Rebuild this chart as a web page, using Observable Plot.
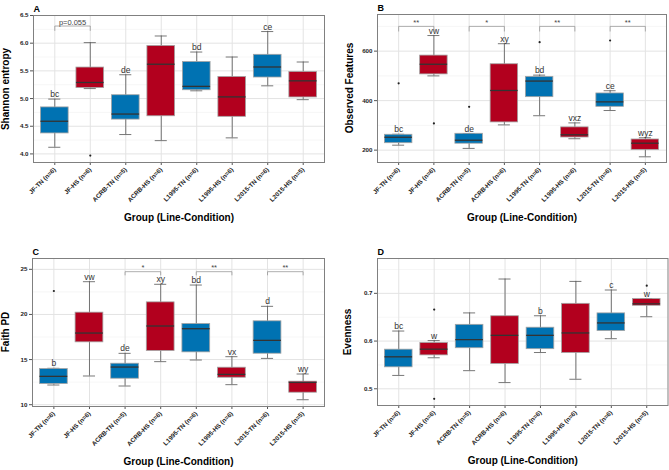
<!DOCTYPE html>
<html>
<head>
<meta charset="utf-8">
<script src="https://cdn.jsdelivr.net/npm/d3@7"></script>
<script src="https://cdn.jsdelivr.net/npm/@observablehq/plot@0.6"></script>
<style>
  html, body { margin: 0; padding: 0; background: #fff; }
  #wrap { position: relative; width: 669px; height: 470px; background: #fff; overflow: hidden; }
  .panel { position: absolute; }
  .ytitle { position: absolute; font-family: 'Liberation Sans', Arial, Helvetica, sans-serif; font-weight: bold;
            font-size: 10px; color: #000; white-space: nowrap; line-height: 1;
            transform: translate(-50%, -50%) rotate(-90deg); }
</style>
</head>
<body>
<div id="wrap">
  <div class="panel" id="pA" style="left:0;top:0"></div>
  <div class="panel" id="pB" style="left:335px;top:0"></div>
  <div class="panel" id="pC" style="left:0;top:235px"></div>
  <div class="panel" id="pD" style="left:335px;top:235px"></div>
</div>
<script>
// ---------- data ----------
const groups = ["JF-TN (n=6)", "JF-HS (n=6)", "ACRB-TN (n=5)", "ACRB-HS (n=6)",
                "L1995-TN (n=6)", "L1995-HS (n=6)", "L2015-TN (n=6)", "L2015-HS (n=5)"];
const conditions = ["TN", "HS", "TN", "HS", "TN", "HS", "TN", "HS"];
const xTitle = "Group (Line-Condition)";

// A: Shannon entropy
const shannonMin = [4.12, 5.18, 4.35, 4.24, 5.14, 4.29, 5.23, 4.98];
const shannonQ1  = [4.37, 5.19, 4.62, 4.68, 5.15, 4.67, 5.38, 5.02];
const shannonMed = [4.59, 5.29, 4.72, 5.62, 5.22, 5.03, 5.57, 5.32];
const shannonQ3  = [4.84, 5.56, 5.06, 5.95, 5.66, 5.39, 5.79, 5.48];
const shannonMax = [4.99, 6.01, 5.43, 6.13, 5.84, 5.75, 6.21, 5.66];
const shannonOutGroup = ["JF-HS (n=6)"];
const shannonOutValue = [3.97];
const shannonLetters = ["bc", "", "de", "", "bd", "", "ce", ""];
const shannonBrLeft = ["JF-TN (n=6)"];
const shannonBrRight = ["JF-HS (n=6)"];
const shannonBrTop = [6.31];
const shannonBrLeg = [6.23];
const shannonBrText = ["p=0.055"];
const shannonTicks = [4.0, 4.5, 5.0, 5.5, 6.0, 6.5];
const shannonMinor = [4.25, 4.75, 5.25, 5.75, 6.25];

// B: Observed Features
const obsMin = [220, 500, 207, 302, 339, 246, 360, 173];
const obsQ1  = [228, 506, 226, 312, 414, 251, 375, 201];
const obsMed = [252, 547, 240, 441, 479, 262, 395, 228];
const obsQ3  = [262, 582, 266, 547, 496, 292, 429, 243];
const obsMax = [264, 663, 267, 630, 503, 310, 440, 250];
const obsOutGroup = ["JF-TN (n=6)", "JF-HS (n=6)", "ACRB-TN (n=5)", "L1995-TN (n=6)", "L2015-TN (n=6)"];
const obsOutValue = [470, 308, 375, 636, 643];
const obsLetters = ["bc", "vw", "de", "xy", "bd", "vxz", "ce", "wyz"];
const obsBrLeft = ["JF-TN (n=6)", "ACRB-TN (n=5)", "L1995-TN (n=6)", "L2015-TN (n=6)"];
const obsBrRight = ["JF-HS (n=6)", "ACRB-HS (n=6)", "L1995-HS (n=6)", "L2015-HS (n=5)"];
const obsBrTop = [700, 700, 700, 700];
const obsBrLeg = [681, 681, 681, 681];
const obsBrText = ["**", "*", "**", "**"];
const obsTicks = [200, 400, 600];
const obsMinor = [300, 500, 700];

// C: Faith PD
const faithMin = [12.18, 13.18, 12.07, 14.77, 14.95, 12.22, 15.13, 10.55];
const faithQ1  = [12.29, 16.91, 12.88, 15.95, 15.80, 12.99, 15.65, 11.33];
const faithMed = [13.14, 17.94, 14.17, 18.72, 18.42, 13.36, 17.13, 12.47];
const faithQ3  = [13.95, 20.20, 14.54, 21.34, 18.94, 14.10, 19.24, 12.55];
const faithMax = [14.03, 23.63, 15.69, 23.34, 23.26, 15.32, 20.90, 13.40];
const faithOutGroup = ["JF-TN (n=6)"];
const faithOutValue = [22.6];
const faithLetters = ["b", "vw", "de", "xy", "bd", "vx", "d", "wy"];
const faithBrLeft = ["ACRB-TN (n=5)", "L1995-TN (n=6)", "L2015-TN (n=6)"];
const faithBrRight = ["ACRB-HS (n=6)", "L1995-HS (n=6)", "L2015-HS (n=5)"];
const faithBrTop = [24.74, 24.74, 24.74];
const faithBrLeg = [24.38, 24.38, 24.38];
const faithBrText = ["*", "**", "**"];
const faithTicks = [10, 15, 20, 25];
const faithMinor = [12.5, 17.5, 22.5];

// D: Evenness
const evenMin = [0.528, 0.565, 0.538, 0.513, 0.576, 0.520, 0.605, 0.651];
const evenQ1  = [0.545, 0.570, 0.585, 0.552, 0.583, 0.575, 0.621, 0.674];
const evenMed = [0.567, 0.583, 0.603, 0.612, 0.612, 0.617, 0.638, 0.678];
const evenQ3  = [0.582, 0.596, 0.634, 0.652, 0.628, 0.678, 0.658, 0.688];
const evenMax = [0.621, 0.601, 0.659, 0.730, 0.653, 0.725, 0.707, 0.689];
const evenOutGroup = ["JF-HS (n=6)", "JF-HS (n=6)", "L2015-HS (n=5)"];
const evenOutValue = [0.666, 0.479, 0.716];
const evenLetters = ["bc", "w", "", "", "b", "", "c", "w"];
const evenBrLeft = [];
const evenBrRight = [];
const evenBrTop = [];
const evenBrLeg = [];
const evenBrText = [];
const evenTicks = [0.5, 0.6, 0.7];
const evenMinor = [0.55, 0.65, 0.75];

// ---------- drawing ----------
const BLUE = "#0072B2";
const RED = "#B2001E";
const FONT = "'Liberation Sans', Arial, Helvetica, sans-serif";
const PAD_IN = 0.22, PAD_OUT = 0.21;

function panel(cfg) {
  const rows = groups.map((g, i) => ({
    g, cond: conditions[i],
    min: cfg.min[i], q1: cfg.q1[i], med: cfg.med[i], q3: cfg.q3[i], max: cfg.max[i],
    letter: cfg.letters[i]
  }));
  const outs = cfg.outG.map((g, i) => ({g, v: cfg.outV[i]}));
  const brs = cfg.brL.map((l, i) => ({id: i, left: l, right: cfg.brR[i], top: cfg.brTop[i], leg: cfg.brLeg[i], label: cfg.brText[i]}));
  const brPts = brs.flatMap(b => [
    {id: b.id, g: b.left, y: b.leg}, {id: b.id, g: b.left, y: b.top},
    {id: b.id, g: b.right, y: b.top}, {id: b.id, g: b.right, y: b.leg}
  ]);
  const W = cfg.w - cfg.ml - cfg.mr;
  const step = W / (groups.length - PAD_IN + 2 * PAD_OUT);
  const capInset = 0.22 * step;

  const chart = Plot.plot({
    width: cfg.w, height: cfg.h,
    marginLeft: cfg.ml, marginRight: cfg.mr, marginTop: cfg.mt, marginBottom: cfg.mb,
    style: {fontFamily: FONT, background: "#fff", overflow: "visible"},
    x: {type: "band", domain: groups, paddingInner: PAD_IN, paddingOuter: PAD_OUT, round: false},
    y: {domain: cfg.domain},
    color: {domain: ["TN", "HS"], range: [BLUE, RED]},
    marks: [
      Plot.gridY(cfg.minor, {stroke: "#ececec", strokeOpacity: 1, strokeWidth: 0.5}),
      Plot.gridY(cfg.ticks, {stroke: "#e3e3e3", strokeOpacity: 1, strokeWidth: 1}),
      Plot.gridX(groups, {stroke: "#e3e3e3", strokeOpacity: 1, strokeWidth: 1}),
      Plot.axisY(cfg.ticks, {tickFormat: cfg.fmt, tickSize: 3, tickPadding: 2, fontSize: 6.2, fontWeight: "bold", fill: "#222", stroke: "#555", label: null}),
      Plot.axisX({tickRotate: -45, tickSize: 3, tickPadding: 3, fontSize: 6.3, fontWeight: "bold", fill: "#222", stroke: "#555", label: null}),
      Plot.ruleX(rows, {x: "g", y1: "min", y2: "max", stroke: "#555", strokeWidth: 0.8}),
      Plot.tickY(rows, {x: "g", y: "max", stroke: "#555", strokeWidth: 0.8, insetLeft: capInset, insetRight: capInset}),
      Plot.tickY(rows, {x: "g", y: "min", stroke: "#555", strokeWidth: 0.8, insetLeft: capInset, insetRight: capInset}),
      Plot.barY(rows, {x: "g", y1: "q1", y2: "q3", fill: "cond", stroke: "#a3a3a3", strokeWidth: 0.8}),
      Plot.tickY(rows, {x: "g", y: "med", stroke: "#333", strokeWidth: 1.3}),
      Plot.dot(outs, {x: "g", y: "v", r: 1.1, fill: "#222", stroke: null}),
      Plot.text(rows.filter(d => d.letter), {x: "g", y: "max", text: "letter", dy: -2, lineAnchor: "bottom", fontSize: 8.5, fill: "#333"}),
      Plot.line(brPts, {x: "g", y: "y", z: "id", stroke: "#8c8c8c", strokeWidth: 0.7}),
      Plot.text(brs, {x: "left", y: "top", text: "label", dx: step / 2, dy: -1.5, lineAnchor: "bottom", fontSize: 7.5, fill: "#444"}),
      Plot.frame({stroke: "#808080", strokeWidth: 1}),
      Plot.text([cfg.letter], {frameAnchor: "top-left", text: d => d, dy: -10, textAnchor: "start", fontWeight: "bold", fontSize: 9, fill: "#000"}),
      Plot.text([xTitle], {frameAnchor: "bottom", text: d => d, textAnchor: "middle", dy: 58, fontWeight: "bold", fontSize: 10, fill: "#000"})
    ]
  });
  const host = document.getElementById(cfg.el);
  host.appendChild(chart);
  const t = document.createElement("div");
  t.className = "ytitle";
  t.textContent = cfg.yLabel;
  t.style.left = (cfg.ml - cfg.yOff) + "px";
  t.style.top = ((cfg.mt + cfg.h - cfg.mb) / 2) + "px";
  host.appendChild(t);
}

const f1 = d3.format(".1f");
panel({el: "pA", letter: "A", yLabel: "Shannon entropy", yOff: 27,
  min: shannonMin, q1: shannonQ1, med: shannonMed, q3: shannonQ3, max: shannonMax,
  outG: shannonOutGroup, outV: shannonOutValue, letters: shannonLetters,
  brL: shannonBrLeft, brR: shannonBrRight, brTop: shannonBrTop, brLeg: shannonBrLeg, brText: shannonBrText,
  domain: [3.845, 6.5], ticks: shannonTicks, minor: shannonMinor, fmt: f1,
  w: 335, h: 235, ml: 33, mr: 11, mt: 15, mb: 73});
panel({el: "pB", letter: "B", yLabel: "Observed Features", yOff: 27,
  min: obsMin, q1: obsQ1, med: obsMed, q3: obsQ3, max: obsMax,
  outG: obsOutGroup, outV: obsOutValue, letters: obsLetters,
  brL: obsBrLeft, brR: obsBrRight, brTop: obsBrTop, brLeg: obsBrLeg, brText: obsBrText,
  domain: [150, 748], ticks: obsTicks, minor: obsMinor, fmt: d3.format("d"),
  w: 334, h: 235, ml: 42, mr: 3, mt: 14, mb: 73});
panel({el: "pC", letter: "C", yLabel: "Faith PD", yOff: 26,
  min: faithMin, q1: faithQ1, med: faithMed, q3: faithQ3, max: faithMax,
  outG: faithOutGroup, outV: faithOutValue, letters: faithLetters,
  brL: faithBrLeft, brR: faithBrRight, brTop: faithBrTop, brLeg: faithBrLeg, brText: faithBrText,
  domain: [9.8, 26.2], ticks: faithTicks, minor: faithMinor, fmt: d3.format("d"),
  w: 335, h: 235, ml: 32, mr: 11, mt: 23, mb: 64});
panel({el: "pD", letter: "D", yLabel: "Evenness", yOff: 29,
  min: evenMin, q1: evenQ1, med: evenMed, q3: evenQ3, max: evenMax,
  outG: evenOutGroup, outV: evenOutValue, letters: evenLetters,
  brL: evenBrLeft, brR: evenBrRight, brTop: evenBrTop, brLeg: evenBrLeg, brText: evenBrText,
  domain: [0.465, 0.773], ticks: evenTicks, minor: evenMinor, fmt: f1,
  w: 334, h: 235, ml: 42, mr: 1.5, mt: 23, mb: 65});
</script>
</body>
</html>
